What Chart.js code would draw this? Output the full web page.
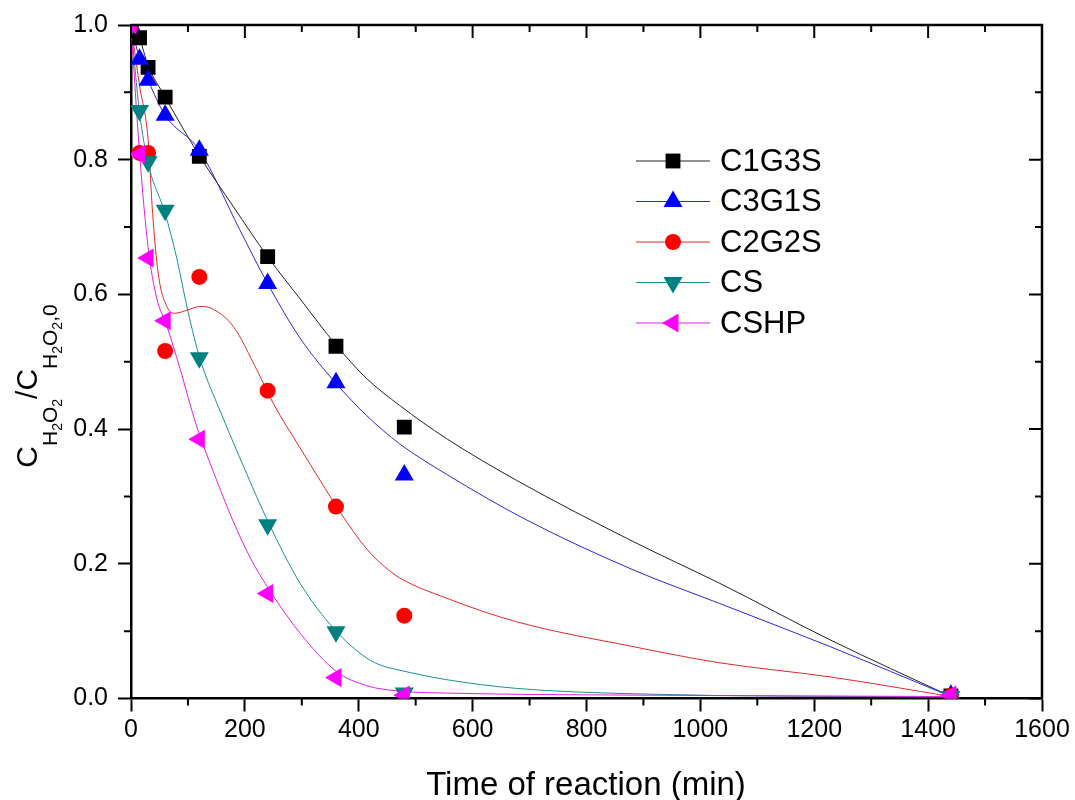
<!DOCTYPE html>
<html>
<head>
<meta charset="utf-8">
<script src="https://cdn.jsdelivr.net/npm/chart.js@4.4.0/dist/chart.umd.min.js"></script>
<style>
  html, body { margin: 0; padding: 0; background: #fff; }
</style>
</head>
<body>
<canvas id="chart" width="1075" height="800"></canvas>
<script>
// measured points (time in min, C/C0)
var times = [0, 15, 30, 60, 120, 240, 360, 480, 1440];
var c1g3s = [1.0, 0.981, 0.937, 0.893, 0.805, 0.656, 0.523, 0.403, 0.004];
var c3g1s = [1.0, 0.949, 0.918, 0.866, 0.814, 0.616, 0.469, 0.332, 0.005];
var c2g2s = [1.0, 0.810, 0.810, 0.516, 0.626, 0.457, 0.285, 0.123, 0.004];
var cs    = [1.0, 0.873, 0.797, 0.725, 0.506, 0.258, 0.099, 0.008, 0.003];
var cshp  = [1.0, 0.808, 0.654, 0.561, 0.385, 0.156, 0.031, 0.005, 0.005];

// fitted curves
var c1g3sFitX = [0, 15, 30, 60, 120, 180, 240, 300, 360, 414, 472, 554, 677, 882, 1034, 1228, 1440];
var c1g3sFitY = [1.0, 0.98, 0.94, 0.893, 0.806, 0.73, 0.656, 0.59, 0.525, 0.475, 0.435, 0.386, 0.324, 0.233, 0.171, 0.087, 0.003];
var c3g1sFitX = [0, 15, 30, 60, 120, 191, 240, 297, 360, 414, 472, 554, 695, 882, 1034, 1228, 1440];
var c3g1sFitY = [1.0, 0.95, 0.918, 0.866, 0.814, 0.696, 0.616, 0.535, 0.468, 0.42, 0.378, 0.333, 0.265, 0.191, 0.141, 0.077, 0.003];
var c2g2sFitX = [0, 15, 30, 38, 48, 63, 77, 100, 121, 142, 180, 221, 250, 297, 332, 367, 414, 445, 472, 554, 677, 882, 1034, 1228, 1440];
var c2g2sFitY = [1.0, 0.91, 0.83, 0.72, 0.63, 0.582, 0.572, 0.577, 0.582, 0.579, 0.552, 0.488, 0.438, 0.372, 0.324, 0.277, 0.222, 0.196, 0.179, 0.149, 0.114, 0.077, 0.053, 0.032, 0.003];
var csFitX = [0, 15, 30, 60, 80, 100, 121, 160, 200, 241, 297, 358, 414, 440, 472, 554, 677, 882, 1440];
var csFitY = [1.0, 0.87, 0.795, 0.72, 0.655, 0.575, 0.505, 0.42, 0.34, 0.262, 0.171, 0.102, 0.06, 0.049, 0.042, 0.028, 0.015, 0.007, 0.002];
var cshpFitX = [0, 15, 30, 45, 63, 86, 115, 150, 180, 210, 244, 297, 361, 414, 472, 560, 882, 1440];
var cshpFitY = [1.0, 0.81, 0.67, 0.595, 0.553, 0.49, 0.405, 0.325, 0.262, 0.208, 0.16, 0.097, 0.04, 0.019, 0.011, 0.008, 0.005, 0.003];

var xTicks = [0, 200, 400, 600, 800, 1000, 1200, 1400, 1600];
var yTicks = [0.0, 0.2, 0.4, 0.6, 0.8, 1.0];

var FONT = "'Liberation Sans', Arial, sans-serif";

var series = [
  { label: 'C1G3S', data: c1g3s, fx: c1g3sFitX, fy: c1g3sFitY, color: '#000000', line: '#222222', style: 'rect', radius: 10.5, rot: 0 },
  { label: 'C3G1S', data: c3g1s, fx: c3g1sFitX, fy: c3g1sFitY, color: '#0000ff', line: '#2a2ad0', style: 'triangle', radius: 11, rot: 0 },
  { label: 'C2G2S', data: c2g2s, fx: c2g2sFitX, fy: c2g2sFitY, color: '#ff0000', line: '#e02a2a', style: 'circle', radius: 8, rot: 0 },
  { label: 'CS', data: cs, fx: csFitX, fy: csFitY, color: '#008080', line: '#1a9090', style: 'triangle', radius: 11, rot: 180 },
  { label: 'CSHP', data: cshp, fx: cshpFitX, fy: cshpFitY, color: '#ff00ff', line: '#e020e0', style: 'triangle', radius: 11, rot: 270 }
];

function pairs(xs, ys) {
  return xs.map(function(x, i) { return { x: x, y: ys[i] }; });
}

var datasets = [];
series.forEach(function(s, i) {
  datasets.push({
    label: s.label + ' fit',
    data: pairs(s.fx, s.fy),
    showLine: true,
    borderColor: s.line,
    borderWidth: 1,
    pointRadius: 0,
    cubicInterpolationMode: 'monotone',
    order: 20 - i
  });
});
series.forEach(function(s, i) {
  datasets.push({
    label: s.label,
    data: pairs(times, s.data),
    showLine: false,
    pointStyle: s.style,
    pointRadius: s.radius,
    pointRotation: s.rot,
    pointBackgroundColor: s.color,
    pointBorderColor: s.color,
    pointBorderWidth: 0,
    clip: 0,
    order: 10 - i
  });
});

var framePlugin = {
  id: 'frame',
  afterDraw: function(chart) {
    var ctx = chart.ctx, a = chart.chartArea;
    var xs = chart.scales.x, ys = chart.scales.y;
    ctx.save();
    ctx.strokeStyle = '#000';
    // top and right axis lines
    ctx.lineWidth = 2.5;
    ctx.beginPath();
    ctx.moveTo(a.left, a.top); ctx.lineTo(a.right, a.top); ctx.lineTo(a.right, a.bottom);
    ctx.stroke();
    ctx.lineWidth = 2;
    ctx.beginPath();
    var v, p;
    for (v = 0; v <= 1600; v += 100) {
      p = xs.getPixelForValue(v);
      var big = v % 200 === 0;
      if (!big) { ctx.moveTo(p, a.bottom); ctx.lineTo(p, a.bottom + 7); }
      ctx.moveTo(p, a.top); ctx.lineTo(p, a.top + (big ? 13 : 7));
    }
    for (v = 0; v <= 10; v += 1) {
      p = ys.getPixelForValue(v / 10);
      var bigY = v % 2 === 0;
      if (!bigY) { ctx.moveTo(a.left, p); ctx.lineTo(a.left - 7, p); }
      ctx.moveTo(a.right, p); ctx.lineTo(a.right - (bigY ? 13 : 7), p);
    }
    ctx.stroke();

    // x title
    ctx.fillStyle = '#000';
    ctx.font = '33px ' + FONT;
    ctx.textAlign = 'center';
    ctx.textBaseline = 'alphabetic';
    ctx.fillText('Time of reaction (min)', 586, 795);

    // y title with subscripts
    var parts = [
      ['C', 30, 0], ['H', 21, 20], ['2', 14, 25], ['O', 21, 20], ['2', 14, 25],
      ['/C', 30, 0], ['H', 21, 20], ['2', 14, 25], ['O', 21, 20], ['2', 14, 25], [',0', 21, 20]
    ];
    var total = 0;
    parts.forEach(function(pt) { ctx.font = pt[1] + 'px ' + FONT; pt.push(ctx.measureText(pt[0]).width); total += pt[3]; });
    ctx.translate(37, 386 + total / 2);
    ctx.rotate(-Math.PI / 2);
    ctx.textAlign = 'left';
    var cx = 0;
    parts.forEach(function(pt) {
      ctx.font = pt[1] + 'px ' + FONT;
      ctx.fillText(pt[0], cx, pt[2]);
      cx += pt[3];
    });
    ctx.restore();

    // legend: line + marker + name
    ctx.save();
    ctx.font = '31px ' + FONT;
    ctx.textBaseline = 'middle';
    ctx.textAlign = 'left';
    series.forEach(function(s, i) {
      var y = 161 + i * 40.5;
      ctx.strokeStyle = s.line;
      ctx.lineWidth = 1;
      ctx.beginPath();
      ctx.moveTo(636, y); ctx.lineTo(710, y);
      ctx.stroke();
      ctx.fillStyle = s.color;
      ctx.strokeStyle = s.color;
      Chart.helpers.drawPoint(ctx, { pointStyle: s.style, radius: s.radius, rotation: s.rot, borderWidth: 0 }, 673, y);
      ctx.fillStyle = '#000';
      ctx.fillText(s.label, 720, y + 1);
    });
    ctx.restore();
  }
};

new Chart(document.getElementById('chart'), {
  type: 'scatter',
  data: { datasets: datasets },
  options: {
    responsive: false,
    animation: false,
    layout: { padding: { top: 25, right: 33, left: 0, bottom: 0 } },
    plugins: { legend: { display: false }, tooltip: { enabled: false } },
    scales: {
      x: {
        type: 'linear', min: 0, max: 1600,
        afterBuildTicks: function(s) { s.ticks = xTicks.map(function(v) { return { value: v }; }); },
        ticks: { color: '#000', font: { family: FONT, size: 25 }, padding: 4, maxRotation: 0, autoSkip: false,
                 callback: function(v) { return String(v); } },
        grid: { drawOnChartArea: false, drawTicks: true, tickLength: 13, tickWidth: 2, tickColor: '#000' },
        border: { display: true, width: 2.5, color: '#000' },
        afterFit: function(s) { s.height = 101.5; }
      },
      y: {
        type: 'linear', min: 0, max: 1,
        afterBuildTicks: function(s) { s.ticks = yTicks.map(function(v) { return { value: v }; }); },
        ticks: { color: '#000', font: { family: FONT, size: 25 }, padding: 10,
                 callback: function(v) { return v.toFixed(1); } },
        grid: { drawOnChartArea: false, drawTicks: true, tickLength: 13, tickWidth: 2, tickColor: '#000' },
        border: { display: true, width: 2.5, color: '#000' },
        afterFit: function(s) { s.width = 131; }
      }
    }
  },
  plugins: [framePlugin]
});
</script>
</body>
</html>
